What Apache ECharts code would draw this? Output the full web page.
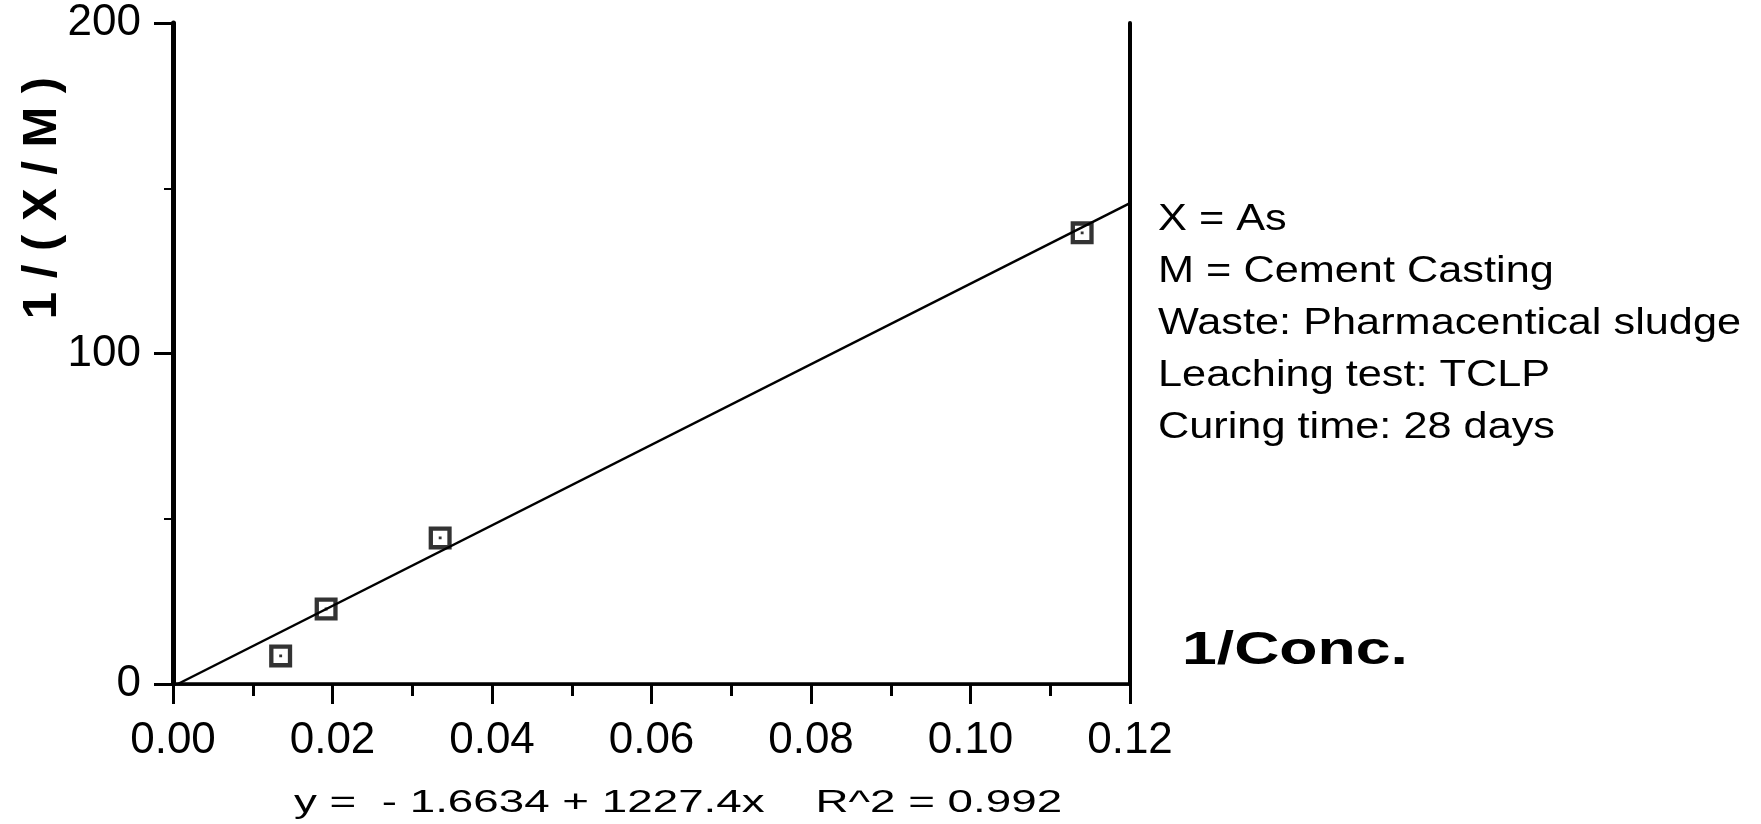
<!DOCTYPE html>
<html>
<head>
<meta charset="utf-8">
<script src="https://cdn.jsdelivr.net/npm/echarts@6/dist/echarts.min.js"></script>
<style>
  html, body { margin: 0; background: #fff; }
  #chart { width: 1761px; height: 824px; }
</style>
</head>
<body>
<div id="chart"></div>
<script>
// 1/(X/M) against 1/Conc. for As in cement casting
const concInv = [0.0135, 0.0192, 0.0335, 0.114]
const xmInv = [8.5, 22.7, 44.2, 136.5]

// fitted line y = -1.6634 + 1227.4x, read at both of its ends
const fitX = [0.0006, 0.12]
const fitY = [0, 145.5]

const notes = [
    'X = As',
    'M = Cement Casting',
    'Waste: Pharmacentical sludge',
    'Leaching test: TCLP',
    'Curing time: 28 days'
]
const equation = 'y =  - 1.6634 + 1227.4x    R^2 = 0.992'
const xName = '1/Conc.'
const yName = '1 / ( X / M )'

const FONT = 'Liberation Sans, Arial, Helvetica, sans-serif'
const INK = '#000'

// hollow square with a dot in the middle
const boxSymbol = 'path://M0,0H24V24H0Z M4.5,4.5V19.5H19.5V4.5Z M10.5,10.5H13.5V13.5H10.5Z'

const chart = echarts.init(document.getElementById('chart'))

const textEl = (text, x, y, size, opts = {}) => ({
    type: 'text',
    x, y,
    rotation: opts.rotation || 0,
    scaleX: opts.scaleX || 1,
    silent: true,
    style: {
        text,
        fill: INK,
        fontFamily: FONT,
        fontSize: size,
        fontWeight: opts.bold ? 'bold' : 'normal',
        textAlign: opts.align || 'left',
        textVerticalAlign: 'middle',
        align: opts.align || 'left',
        verticalAlign: 'middle'
    }
})

const option = {
    backgroundColor: '#fff',
    animation: false,
    grid: { left: 173, top: 23, width: 957, height: 661 },
    xAxis: [
        {
            type: 'value',
            min: 0,
            max: 0.12,
            interval: 0.02,
            axisLine: { lineStyle: { color: INK, width: 3.5 } },
            axisTick: { length: 20, lineStyle: { color: INK, width: 3 } },
            minorTick: { show: true, splitNumber: 2, length: 12, lineStyle: { color: INK, width: 3 } },
            splitLine: { show: false },
            axisLabel: {
                margin: 35,
                color: INK,
                fontFamily: FONT,
                fontSize: 44,
                formatter: v => v.toFixed(2)
            }
        },
        {
            type: 'value',
            position: 'top',
            min: 0,
            max: 0.12,
            axisLine: { show: true, lineStyle: { color: INK, width: 2.5 } },
            axisTick: { show: false },
            axisLabel: { show: false },
            splitLine: { show: false }
        }
    ],
    yAxis: [
        {
            type: 'value',
            min: 0,
            max: 200,
            interval: 100,
            axisLine: { show: true, onZero: false, lineStyle: { color: INK, width: 5 } },
            axisTick: { show: true, length: 19, lineStyle: { color: INK, width: 3 } },
            minorTick: { show: true, splitNumber: 2, length: 9, lineStyle: { color: INK, width: 2 } },
            splitLine: { show: false },
            axisLabel: {
                margin: 32,
                color: INK,
                fontFamily: FONT,
                fontSize: 44
            }
        },
        {
            type: 'value',
            position: 'right',
            min: 0,
            max: 200,
            axisLine: { show: true, onZero: false, lineStyle: { color: INK, width: 4 } },
            axisTick: { show: false },
            axisLabel: { show: false },
            splitLine: { show: false }
        }
    ],
    series: [
        {
            name: 'fit',
            type: 'line',
            data: fitX.map((x, i) => [x, fitY[i]]),
            showSymbol: false,
            lineStyle: { color: INK, width: 2.5 },
            z: 2
        },
        {
            name: 'As',
            type: 'scatter',
            data: concInv.map((x, i) => [x, xmInv[i]]),
            symbol: boxSymbol,
            symbolSize: 23,
            itemStyle: { color: INK },
            z: 3
        }
    ],
    graphic: [
        textEl(yName, 42, 198, 49, { rotation: Math.PI / 2, align: 'center', bold: true }),
        textEl(xName, 1182, 651, 46, { bold: true, scaleX: 1.36 }),
        textEl(equation, 294, 803, 32, { scaleX: 1.43 }),
        ...notes.map((t, i) => textEl(t, 1158, 220 + i * 52, 37, { scaleX: 1.17 }))
    ]
}

chart.setOption(option)
</script>
</body>
</html>
